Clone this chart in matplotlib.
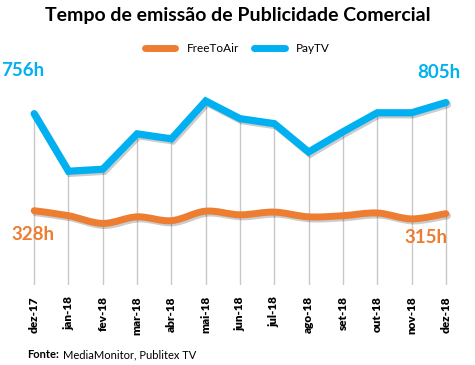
import matplotlib
matplotlib.use("Agg")
import matplotlib.pyplot as plt
import matplotlib.patheffects as pe
from matplotlib.path import Path
from matplotlib.patches import PathPatch
from matplotlib.lines import Line2D
import numpy as np

months = ["dez-17", "jan-18", "fev-18", "mar-18", "abr-18", "mai-18", "jun-18",
          "jul-18", "ago-18", "set-18", "out-18", "nov-18", "dez-18"]
free_to_air = [328, 306, 272, 301, 284, 326, 310, 322, 301, 306, 318, 292, 315]
pay_tv = [756, 502, 511, 667, 645, 812, 734, 712, 587, 676, 760, 760, 805]

ORANGE = "#ED7D31"
BLUE = "#00B0F0"
FONT = "Lato"

fig = plt.figure(figsize=(4.75, 3.65), dpi=100)
ax = fig.add_axes([0.0358, 0.219, 0.939, 0.559])
x = np.arange(len(months))

# drop lines
tops = np.maximum(free_to_air, pay_tv)
ax.vlines(x, 0, tops, colors="#c8c8c8", linewidth=1.0, zorder=1)

shadow = [pe.SimpleLineShadow(offset=(1.2, -1.5), shadow_color="black", alpha=0.2),
          pe.Normal()]

# smoothed orange line (Catmull-Rom as cubic Bezier in data space)
xs = x.astype(float)
ys = np.array(free_to_air, dtype=float)
verts = [(xs[0], ys[0])]
codes = [Path.MOVETO]
n = len(xs)
for i in range(n - 1):
    p0 = (xs[max(i - 1, 0)], ys[max(i - 1, 0)])
    p1 = (xs[i], ys[i])
    p2 = (xs[i + 1], ys[i + 1])
    p3 = (xs[min(i + 2, n - 1)], ys[min(i + 2, n - 1)])
    t = 1 / 6
    c1 = (p1[0] + (p2[0] - p0[0]) * t, p1[1] + (p2[1] - p0[1]) * t)
    c2 = (p2[0] - (p3[0] - p1[0]) * t, p2[1] - (p3[1] - p1[1]) * t)
    verts += [c1, c2, p2]
    codes += [Path.CURVE4] * 3
patch = PathPatch(Path(verts, codes), fill=False, edgecolor=ORANGE,
                  linewidth=5, capstyle="round", joinstyle="round", zorder=3,
                  path_effects=shadow)
ax.add_patch(patch)

ax.plot(x, pay_tv, color=BLUE, linewidth=5.2, solid_capstyle="round",
        solid_joinstyle="miter", zorder=4, path_effects=shadow)

ax.set_xlim(-0.5, len(months) - 0.5)
ax.set_ylim(0, 900)
ax.set_yticks([])
ax.set_xticks(x)
ax.set_xticklabels(months, rotation=90, fontsize=8.5, fontweight="heavy",
                   family=FONT, color="black")
ax.tick_params(axis="x", length=0, pad=8)
for s in ax.spines.values():
    s.set_visible(False)

# end labels
ax.annotate(f"{pay_tv[0]}h", (x[0], pay_tv[0]), xytext=(-8, 31), textcoords="offset points",
            ha="center", va="center", color=BLUE, fontsize=13.5, fontweight="bold", family=FONT)
ax.annotate(f"{pay_tv[-1]}h", (x[-1], pay_tv[-1]), xytext=(-5, 22), textcoords="offset points",
            ha="center", va="center", color=BLUE, fontsize=13.5, fontweight="bold", family=FONT)
ax.annotate(f"{free_to_air[0]}h", (x[0], free_to_air[0]), xytext=(-1, -17), textcoords="offset points",
            ha="center", va="center", color=ORANGE, fontsize=13.5, fontweight="bold", family=FONT)
ax.annotate(f"{free_to_air[-1]}h", (x[-1], free_to_air[-1]), xytext=(-14, -17), textcoords="offset points",
            ha="center", va="center", color=ORANGE, fontsize=13.5, fontweight="bold", family=FONT)

fig.text(0.5, 1 - 16 / 365, "Tempo de emissão de Publicidade Comercial", ha="center",
         va="center", fontsize=14, fontweight="bold", family=FONT)

handles = [Line2D([0], [0], color=ORANGE, linewidth=5, solid_capstyle="round"),
           Line2D([0], [0], color=BLUE, linewidth=5, solid_capstyle="round")]
fig.legend(handles, ["FreeToAir", "PayTV"], loc="center", bbox_to_anchor=(0.5, 1 - 49 / 365),
           ncol=2, frameon=False, prop={"family": FONT, "size": 8.5},
           handlelength=2.6, columnspacing=1.2, handletextpad=1.0)

fig.text(27 / 475, 1 - 355 / 365, "Fonte:", ha="left", va="center", fontsize=8,
         fontweight="bold", family=FONT)
fig.text(63 / 475, 1 - 355 / 365, "MediaMonitor, Publitex TV", ha="left", va="center",
         fontsize=8, family=FONT)

fig.savefig("out.png", dpi=100)
